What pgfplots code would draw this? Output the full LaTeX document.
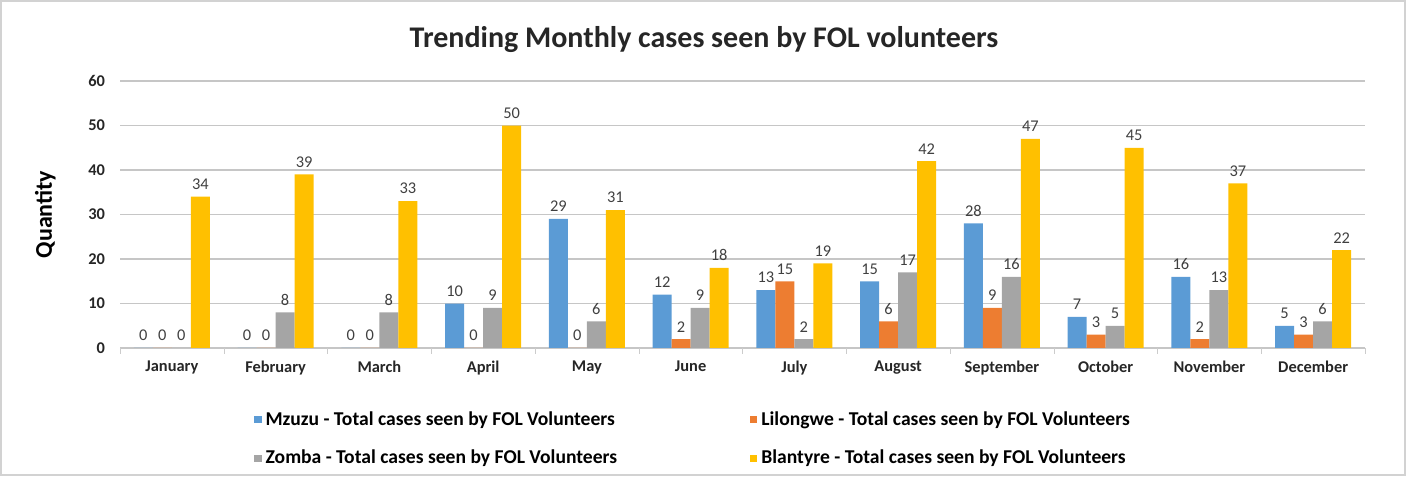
\documentclass[border=0pt]{standalone}
\usepackage{fontspec}
\setmainfont{Carlito}
\usepackage{pgfplots}
\pgfplotsset{compat=1.18}

\definecolor{mzuzu}{HTML}{5B9BD5}
\definecolor{lilongwe}{HTML}{ED7D31}
\definecolor{zomba}{HTML}{A5A5A5}
\definecolor{blantyre}{HTML}{FFC000}
\definecolor{lbl}{HTML}{404040}

% month index, Mzuzu, Lilongwe, Zomba, Blantyre
\pgfplotstableread{
m  mz  li  zo  bl
0  0   0   0   34
1  0   0   8   39
2  0   0   8   33
3  10  0   9   50
4  29  0   6   31
5  12  2   9   18
6  13  15  2   19
7  15  6   17  42
8  28  9   16  47
9  7   3   5   45
10 16  2   13  37
11 5   3   6   22
}\cases

\begin{document}
\begin{tikzpicture}
\useasboundingbox (0,0) rectangle (703pt,238pt);
\draw[gray!35, line width=0.8pt] (0.5pt,0.5pt) rectangle (702.5pt,237.5pt);
\node[font=\bfseries\fontsize{15}{18}\selectfont, text=black!85] at (352pt,218pt)
  {Trending Monthly cases seen by FOL volunteers};
\begin{axis}[
    at={(60pt,64pt)}, anchor=south west,
    scale only axis,
    width=622.5pt, height=133.5pt,
    ybar=0pt, bar width=9.5pt,
    xmin=-0.5, xmax=11.5,
    ymin=0, ymax=60, ytick={0,10,...,60},
    xtick={0,...,11},
    xticklabels={January,February,March,April,May,June,July,August,September,October,November,December},
    xtick pos=bottom, ytick pos=left,
    extra x ticks={-0.5,0.5,...,11.5},
    extra x tick labels={},
    extra x tick style={major tick length=3pt, tick align=outside, tick style={gray!40}, grid=none},
    major tick length=0pt,
    axis line style={draw=none},
    ymajorgrids, grid style={gray!45, line width=0.6pt},
    ticklabel style={font=\bfseries\fontsize{8.2}{9}\selectfont, text=black!85},
    /pgf/number format/assume math mode=true,
    yticklabel style={xshift=-4pt},
    xticklabel style={yshift=-3pt},
    ylabel={Quantity},
    ylabel style={font=\bfseries\fontsize{12}{14}\selectfont, at={(axis description cs:-0.06,0.5)}, anchor=center},
    nodes near coords,
    every node near coord/.append style={font=\fontsize{8.2}{9}\selectfont, text=lbl, /pgf/number format/assume math mode=true},
    legend columns=2,
    legend cell align=left,
    legend style={
        at={(0.1076,0)}, anchor=north west, yshift=-29.5pt,
        draw=none, inner sep=0pt,
        font=\bfseries\fontsize{9.8}{11}\selectfont,
        /tikz/every even column/.append style={column sep=64.5pt},
        row sep=7pt,
    },
    legend image code/.code={\fill[#1] (0pt,-1.8pt) rectangle (3.6pt,1.8pt);},
]
\addplot[fill=mzuzu, draw=none] table[x=m, y=mz] {\cases};
\addplot[fill=lilongwe, draw=none] table[x=m, y=li] {\cases};
\addplot[fill=zomba, draw=none] table[x=m, y=zo] {\cases};
\addplot[fill=blantyre, draw=none] table[x=m, y=bl] {\cases};
\legend{Mzuzu - Total cases seen by FOL Volunteers, Lilongwe - Total cases seen by FOL Volunteers, Zomba - Total cases seen by FOL Volunteers, Blantyre - Total cases seen by FOL Volunteers}
\end{axis}
\end{tikzpicture}
\end{document}
